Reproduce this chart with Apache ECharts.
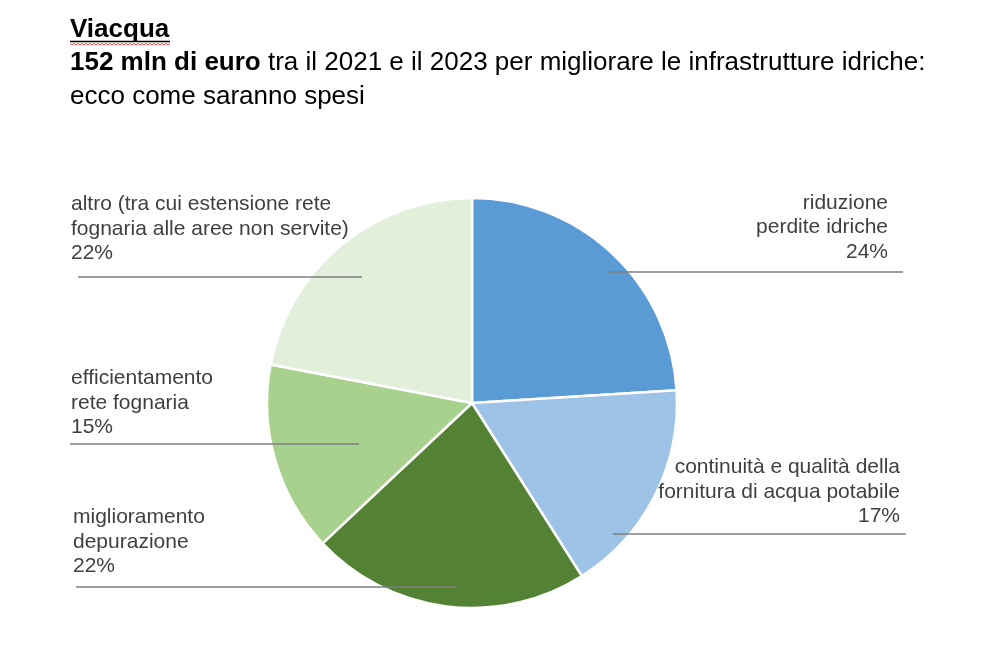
<!DOCTYPE html>
<html>
<head>
<meta charset="utf-8">
<script src="https://cdn.jsdelivr.net/npm/echarts@6/dist/echarts.min.js"></script>
<style>html,body{margin:0;padding:0;background:#fff}#c{width:1007px;height:647px}</style>
</head>
<body>
<div id="c"></div>
<script>
// ---- data ----
var categories = [
  'riduzione\nperdite idriche',
  'continuità e qualità della\nfornitura di acqua potabile',
  'miglioramento\ndepurazione',
  'efficientamento\nrete fognaria',
  'altro (tra cui estensione rete\nfognaria alle aree non servite)'
];
var shares = [24, 17, 22, 15, 22];
var titleLines = ['Viacqua', '152 mln di euro', ' tra il 2021 e il 2023 per migliorare le infrastrutture idriche:', 'ecco come saranno spesi'];

// ---- styles / layout ----
var colors = ['#5B9BD5', '#9DC3E6', '#548235', '#A9D18E', '#E2EFDA'];
var labelPlacement = [
  {x: 888, top: 190.5, align: 'right', lineY: 272, x0: 607, x1: 903},
  {x: 900, top: 455, align: 'right', lineY: 534, x0: 613, x1: 906},
  {x: 73,  top: 505, align: 'left',  lineY: 587, x0: 76,  x1: 457},
  {x: 71,  top: 366, align: 'left',  lineY: 444, x0: 70,  x1: 359},
  {x: 71,  top: 192, align: 'left',  lineY: 277, x0: 78,  x1: 362}
];

var squiggle = [];
for (var i = 0; i <= 50; i++) { squiggle.push([70 + i * 2, 43.5 + (i % 2 ? 1.5 : 0)]); }

var graphics = [{
  type: 'line', silent: true,
  shape: {x1: 70, y1: 41.5, x2: 170, y2: 41.5},
  style: {stroke: '#000', lineWidth: 1.5}
}, {
  type: 'polyline', silent: true,
  shape: {points: squiggle},
  style: {stroke: '#e04040', lineWidth: 1, fill: null}
}];
labelPlacement.forEach(function (L) {
  graphics.push({
    type: 'line', silent: true, z: 100,
    shape: {x1: L.x0, y1: L.lineY, x2: L.x1, y2: L.lineY},
    style: {stroke: '#7f7f7f', lineWidth: 1.5}
  });
});

var chart = echarts.init(document.getElementById('c'));
chart.setOption({
  backgroundColor: '#fff',
  animation: false,
  title: {
    left: 70, top: 13, padding: 0,
    text: '{t|' + titleLines[0] + '}\n{b|' + titleLines[1] + '}{n|' + titleLines[2] + '}\n{n|' + titleLines[3] + '}',
    textStyle: {
      fontFamily: 'Liberation Sans', fontSize: 26, fontWeight: 'normal', color: '#000',
      rich: {
        t: {fontSize: 26, fontWeight: 'bold', color: '#000', lineHeight: 33.5, fontFamily: 'Liberation Sans'},
        b: {fontSize: 26, fontWeight: 'bold', color: '#000', lineHeight: 33.5, fontFamily: 'Liberation Sans'},
        n: {fontSize: 26, fontWeight: 'normal', color: '#000', lineHeight: 33.5, fontFamily: 'Liberation Sans'}
      }
    }
  },
  graphic: graphics,
  series: [{
    type: 'pie',
    center: [472, 403],
    radius: 205,
    startAngle: 90,
    clockwise: true,
    data: categories.map(function (c, i) {
      return {name: c, value: shares[i], itemStyle: {color: colors[i]}};
    }),
    itemStyle: {borderColor: '#fff', borderWidth: 2.5},
    label: {
      show: true,
      formatter: '{b}\n{c}%',
      fontFamily: 'Liberation Sans',
      fontSize: 21,
      lineHeight: 24.5,
      color: '#404040'
    },
    labelLine: {show: false},
    labelLayout: function (p) {
      var L = labelPlacement[p.dataIndex];
      return {x: L.x, y: L.top, align: L.align, verticalAlign: 'top'};
    },
    emphasis: {disabled: true}
  }]
});
</script>
</body>
</html>
